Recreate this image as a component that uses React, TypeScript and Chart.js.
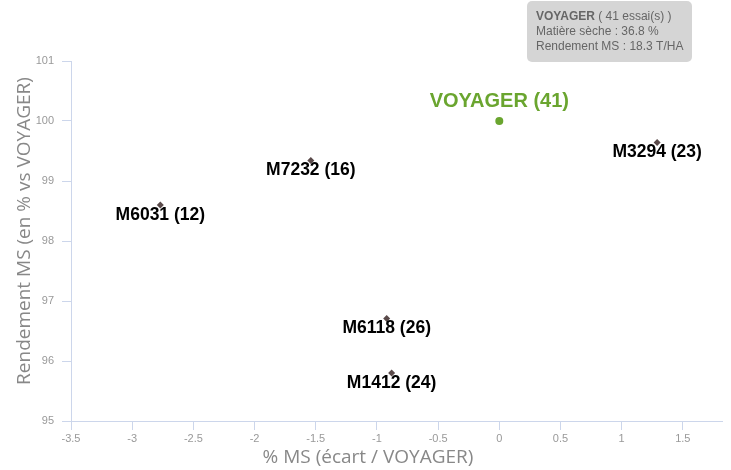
import React, { useEffect, useRef } from "react";
import { Chart, registerables } from "chart.js";

Chart.register(...registerables);

const names = ["VOYAGER", "M7232", "M6031", "M6118", "M1412", "M3294"];
const trials = [41, 16, 12, 26, 24, 23];
const xValues = [0, -1.54, -2.77, -0.92, -0.88, 1.29];
const yValues = [100, 99.34, 98.6, 96.71, 95.8, 99.64];
const xTitle = "% MS (écart / VOYAGER)";
const yTitle = "Rendement MS (en % vs VOYAGER)";
const tooltipTitle = "VOYAGER";
const tooltipSubtitle = " ( 41 essai(s) )";
const tooltipLines = ["Matière sèche : 36.8 %", "Rendement MS : 18.3 T/HA"];

const GREEN = "#6aa52f";
const DIAMOND = "#5a4a4a";
const AXIS = "#ccd6eb";

const labelPlugin = {
  id: "pointLabels",
  afterDatasetsDraw(chart: any) {
    const ctx = chart.ctx;
    ctx.save();
    ctx.textAlign = "center";
    ctx.textBaseline = "middle";
    chart.data.datasets.forEach((ds: any, di: number) => {
      const meta = chart.getDatasetMeta(di);
      meta.data.forEach((el: any, i: number) => {
        const raw = ds.data[i];
        const text = `${raw.name} (${raw.trials})`;
        if (raw.ref) {
          ctx.font = "bold 20px 'Liberation Sans', Arial, sans-serif";
          ctx.fillStyle = GREEN;
          ctx.fillText(text, el.x, el.y - 20);
        } else {
          ctx.font = "bold 17.5px 'Liberation Sans', Arial, sans-serif";
          ctx.fillStyle = "#000";
          ctx.fillText(text, el.x, el.y + 10);
        }
      });
    });
    ctx.restore();
  },
};

const decorPlugin = {
  id: "decor",
  afterDraw(chart: any) {
    const ctx = chart.ctx;
    ctx.save();
    // axis titles
    ctx.fillStyle = "#888";
    ctx.font = "19px 'Open Sans', sans-serif";
    ctx.textAlign = "center";
    ctx.textBaseline = "middle";
    ctx.fillText(xTitle, 368, 458);
    ctx.save();
    ctx.translate(25, 231);
    ctx.rotate(-Math.PI / 2);
    ctx.fillText(yTitle, 0, 0);
    ctx.restore();
    // tooltip box
    const bx = 527, by = 1, bw = 165, bh = 61, r = 5;
    ctx.fillStyle = "rgba(211,211,211,0.95)";
    ctx.beginPath();
    ctx.moveTo(bx + r, by);
    ctx.arcTo(bx + bw, by, bx + bw, by + bh, r);
    ctx.arcTo(bx + bw, by + bh, bx, by + bh, r);
    ctx.arcTo(bx, by + bh, bx, by, r);
    ctx.arcTo(bx, by, bx + bw, by, r);
    ctx.closePath();
    ctx.fill();
    ctx.textAlign = "left";
    ctx.fillStyle = "#666";
    ctx.font = "bold 12px 'Liberation Sans', Arial, sans-serif";
    ctx.fillText(tooltipTitle, 536, 17);
    const w = ctx.measureText(tooltipTitle).width;
    ctx.font = "12px 'Liberation Sans', Arial, sans-serif";
    ctx.fillText(tooltipSubtitle, 536 + w, 17);
    tooltipLines.forEach((l, i) => ctx.fillText(l, 536, 32 + i * 15));
    ctx.restore();
  },
};

export default function App() {
  const ref = useRef<HTMLCanvasElement>(null);
  useEffect(() => {
    const pts = names.map((n, i) => ({ x: xValues[i], y: yValues[i], name: n, trials: trials[i], ref: i === 0 }));
    const chart = new Chart(ref.current!, {
      type: "scatter",
      data: {
        datasets: [
          {
            data: pts.filter((p) => p.ref) as any,
            pointStyle: "circle",
            pointRadius: 4,
            backgroundColor: GREEN,
            borderColor: GREEN,
            borderWidth: 0,
          },
          {
            data: pts.filter((p) => !p.ref) as any,
            pointStyle: "rectRot",
            pointRadius: 3.5,
            backgroundColor: DIAMOND,
            borderColor: DIAMOND,
            borderWidth: 0,
          },
        ],
      },
      options: {
        animation: false,
        responsive: false,
        layout: { padding: { top: 61, right: 9, left: 0, bottom: 0 } },
        plugins: { legend: { display: false }, tooltip: { enabled: false } },
        scales: {
          x: {
            type: "linear",
            min: -3.5,
            max: 1.82,
            afterBuildTicks: (s: any) => {
              s.ticks = s.ticks.filter((t: any) => Math.abs(t.value * 2 - Math.round(t.value * 2)) < 1e-6);
            },
            afterFit: (s: any) => {
              s.height = 49;
            },
            ticks: {
              stepSize: 0.5,
              color: "#999",
              padding: 2,
              maxRotation: 0,
              callback: (v: any) => String(Math.round(Number(v) * 10) / 10),
              font: { family: "'Liberation Sans', Arial, sans-serif", size: 11 },
            },
            grid: { drawOnChartArea: false, drawTicks: true, tickLength: 9, color: AXIS },
            border: { color: AXIS },
          },
          y: {
            type: "linear",
            min: 95,
            max: 101,
            afterFit: (s: any) => {
              s.width = 71;
            },
            ticks: {
              stepSize: 1,
              color: "#999",
              padding: 8,
              font: { family: "'Liberation Sans', Arial, sans-serif", size: 11 },
            },
            grid: { drawOnChartArea: false, drawTicks: true, tickLength: 9, color: AXIS },
            border: { color: AXIS },
          },
        },
      },
      plugins: [labelPlugin, decorPlugin],
    });
    return () => chart.destroy();
  }, []);
  return (
    <div style={{ position: "fixed", left: 0, top: 0, width: 731, height: 470, background: "#fff" }}>
      <canvas ref={ref} width={731} height={470} style={{ width: 731, height: 470 }} />
    </div>
  );
}
